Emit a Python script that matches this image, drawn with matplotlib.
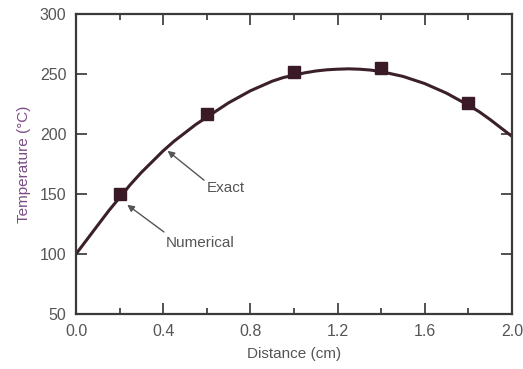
import matplotlib
matplotlib.use("Agg")
import matplotlib.pyplot as plt
from matplotlib.ticker import MultipleLocator

plt.rcParams['font.family'] = ['Liberation Sans', 'DejaVu Sans']

# Exact solution
exact_x = [0.0, 0.05, 0.1, 0.15, 0.2, 0.25, 0.3, 0.35, 0.4, 0.45, 0.5,
           0.55, 0.6, 0.65, 0.7, 0.75, 0.8, 0.85, 0.9, 0.95, 1.0,
           1.05, 1.1, 1.15, 1.2, 1.25, 1.3, 1.35, 1.4, 1.45, 1.5,
           1.55, 1.6, 1.65, 1.7, 1.75, 1.8, 1.85, 1.9, 1.95, 2.0]
exact_T = [100, 112, 124, 136, 147, 158, 168, 177, 186, 194, 201,
           208, 214, 220, 226, 231, 236, 240, 244, 247, 249,
           251, 252.5, 253.5, 254, 254.3, 254, 253.3, 252, 250, 248,
           245, 242, 238, 234, 229, 224, 218.5, 212, 205, 198]

# Numerical solution (square markers)
num_x = [0.2, 0.6, 1.0, 1.4, 1.8]
num_T = [150, 217, 252, 255, 226]

xticks = [0.0, 0.4, 0.8, 1.2, 1.6, 2.0]
xtick_labels = ["0.0", "0.4", "0.8", "1.2", "1.6", "2.0"]
yticks = [50, 100, 150, 200, 250, 300]

fig = plt.figure(figsize=(5.23, 3.69), dpi=100)
ax = fig.add_axes([76/523, 1 - 314/369, (512-76)/523, (314-14)/369])

ax.plot(exact_x, exact_T, color='#3b1f2b', lw=2.2, solid_joinstyle='round')
ax.plot(num_x, num_T, ls='none', marker='s', ms=8, color='#3a1a26')

ax.set_xlim(0, 2.0)
ax.set_ylim(50, 300)
ax.set_xticks(xticks)
ax.set_xticklabels(xtick_labels)
ax.xaxis.set_minor_locator(MultipleLocator(0.2))
ax.set_yticks(yticks)

txt_col = '#555555'
ax.tick_params(axis='both', which='major', direction='in', length=8, width=1.2,
               top=True, right=True, color='#333333', labelcolor=txt_col,
               labelsize=11.5, pad=7)
ax.tick_params(axis='x', which='minor', direction='in', length=4.5, width=1.2,
               top=True, bottom=True, color='#333333')
for s in ax.spines.values():
    s.set_color('#3a3a3a')
    s.set_linewidth(1.6)

ax.set_xlabel('Distance (cm)', fontsize=11, color=txt_col, labelpad=6)
ax.set_ylabel('Temperature (°C)', fontsize=11, color='#7a4c86', labelpad=6)

arrow = dict(arrowstyle='-|>', color='#555555', lw=1.0, mutation_scale=10,
             shrinkA=0, shrinkB=0)
ax.annotate('Exact', xy=(0.42, 186), xytext=(0.60, 155), fontsize=11,
            color=txt_col, ha='left', va='center',
            arrowprops=dict(arrow, relpos=(0, 0.9)))
ax.annotate('Numerical', xy=(0.235, 141), xytext=(0.41, 109), fontsize=11,
            color=txt_col, ha='left', va='center',
            arrowprops=dict(arrow, relpos=(-0.02, 1.3)))

fig.canvas.draw()
fig.savefig('out.png', dpi=100)
